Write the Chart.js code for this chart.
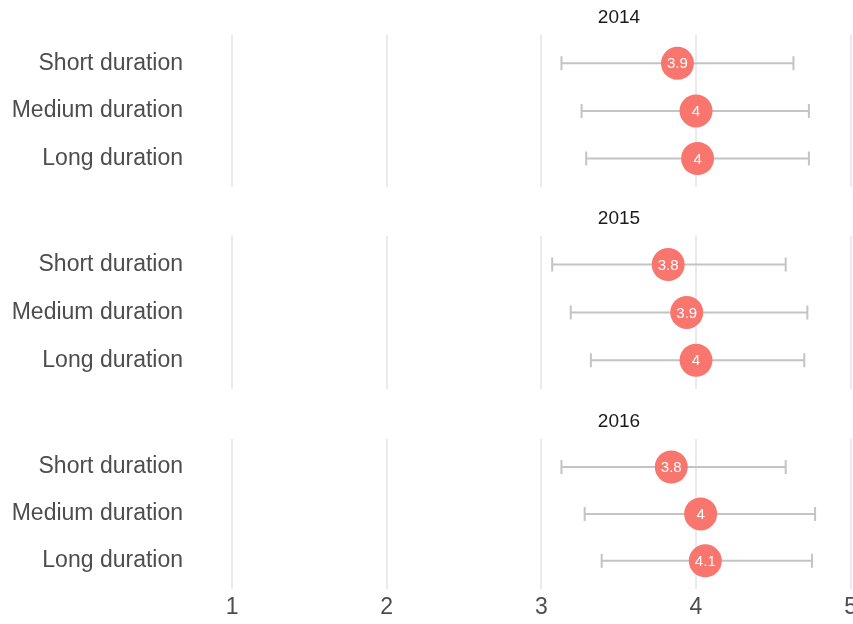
<!DOCTYPE html>
<html>
<head>
<meta charset="utf-8">
<script src="https://cdn.jsdelivr.net/npm/chart.js@4/dist/chart.umd.min.js"></script>
<style>
  html, body { margin: 0; padding: 0; background: #ffffff; overflow: hidden; width: 853px; height: 624px; }
  .panel { position: absolute; left: 0; }
</style>
</head>
<body>
<canvas id="c2014" class="panel" width="1050" height="187" style="top:0px"></canvas>
<canvas id="c2015" class="panel" width="1050" height="188" style="top:201px"></canvas>
<canvas id="c2016" class="panel" width="1050" height="220" style="top:404px"></canvas>
<script>
// ---- data ----
const categories = ['Short duration', 'Medium duration', 'Long duration'];
const years = ['2014', '2015', '2016'];
const xTicks = [1, 2, 3, 4, 5];

const mean2014 = [3.88, 4.00, 4.01];
const low2014  = [3.13, 3.26, 3.29];
const high2014 = [4.63, 4.73, 4.73];

const mean2015 = [3.82, 3.94, 4.00];
const low2015  = [3.07, 3.19, 3.32];
const high2015 = [4.58, 4.72, 4.70];

const mean2016 = [3.84, 4.03, 4.06];
const low2016  = [3.13, 3.28, 3.39];
const high2016 = [4.58, 4.77, 4.75];

const panels = [
  { id: 'c2014', year: years[0], mean: mean2014, low: low2014, high: high2014, last: false },
  { id: 'c2015', year: years[1], mean: mean2015, low: low2015, high: high2015, last: false },
  { id: 'c2016', year: years[2], mean: mean2016, low: low2016, high: high2016, last: true }
];

const FONT = "'Liberation Sans', Arial, Helvetica, sans-serif";
const fmt = v => String(Number(v.toFixed(1)));
const noPad = s => { s.paddingLeft = 0; s.paddingRight = 0; s.paddingTop = 0; s.paddingBottom = 0; };

const errorBarPlugin = {
  id: 'errorBars',
  beforeDatasetsDraw(chart) {
    const p = chart.options.plugins.errorBars;
    const xs = chart.scales.x, ys = chart.scales.y;
    const ctx = chart.ctx;
    ctx.save();
    ctx.strokeStyle = '#c4c4c4';
    ctx.lineWidth = 2;
    p.low.forEach((lo, i) => {
      const y = ys.getPixelForValue(i + 1);
      const x0 = xs.getPixelForValue(lo);
      const x1 = xs.getPixelForValue(p.high[i]);
      ctx.beginPath();
      ctx.moveTo(x0, y); ctx.lineTo(x1, y);
      ctx.moveTo(x0, y - 7); ctx.lineTo(x0, y + 7);
      ctx.moveTo(x1, y - 7); ctx.lineTo(x1, y + 7);
      ctx.stroke();
    });
    ctx.restore();
  },
  afterDatasetsDraw(chart) {
    const ctx = chart.ctx;
    const meta = chart.getDatasetMeta(0);
    ctx.save();
    ctx.fillStyle = '#ffffff';
    ctx.font = '15px ' + FONT;
    ctx.textAlign = 'center';
    ctx.textBaseline = 'middle';
    meta.data.forEach((pt, i) => {
      const v = chart.data.datasets[0].data[i].x;
      ctx.fillText(fmt(v), pt.x, pt.y + 1);
    });
    ctx.restore();
  }
};

panels.forEach(pn => {
  new Chart(document.getElementById(pn.id), {
    type: 'scatter',
    data: {
      datasets: [{
        data: pn.mean.map((m, i) => ({ x: m, y: i + 1 })),
        backgroundColor: '#F8766D',
        borderWidth: 0,
        pointRadius: 16.5,
        pointHoverRadius: 16.5
      }]
    },
    options: {
      responsive: false,
      animation: false,
      devicePixelRatio: 1,
      layout: { autoPadding: false, padding: { left: 0, right: 2, top: 0, bottom: 0 } },
      plugins: {
        legend: { display: false },
        tooltip: { enabled: false },
        title: {
          display: true,
          text: pn.year,
          fullSize: false,
          color: '#1a1a1a',
          font: { family: FONT, size: 19, weight: 'normal' },
          padding: { top: 6, bottom: 6 }
        },
        errorBars: { low: pn.low, high: pn.high }
      },
      scales: {
        x: {
          type: 'linear',
          min: 0.728,
          max: 6.276,
          afterBuildTicks: s => { s.ticks = xTicks.map(v => ({ value: v })); },
          afterFit: s => { s.height = pn.last ? 35 : 0; noPad(s); },
          border: { display: false },
          grid: { display: true, color: '#ebebeb', lineWidth: 2, drawTicks: false },
          ticks: {
            display: pn.last,
            padding: 5,
            color: '#4d4d4d',
            font: { family: FONT, size: 23 },
            maxRotation: 0,
            autoSkip: false
          }
        },
        y: {
          type: 'linear',
          reverse: true,
          min: 0.4,
          max: 3.6,
          afterBuildTicks: s => { s.ticks = categories.map((c, i) => ({ value: i + 1 })); },
          afterFit: s => { s.width = 190; noPad(s); },
          border: { display: false },
          grid: { display: false, drawTicks: false },
          ticks: {
            padding: 7,
            color: '#4d4d4d',
            font: { family: FONT, size: 23 },
            callback: v => categories[v - 1]
          }
        }
      }
    },
    plugins: [errorBarPlugin]
  });
});
</script>
</body>
</html>
